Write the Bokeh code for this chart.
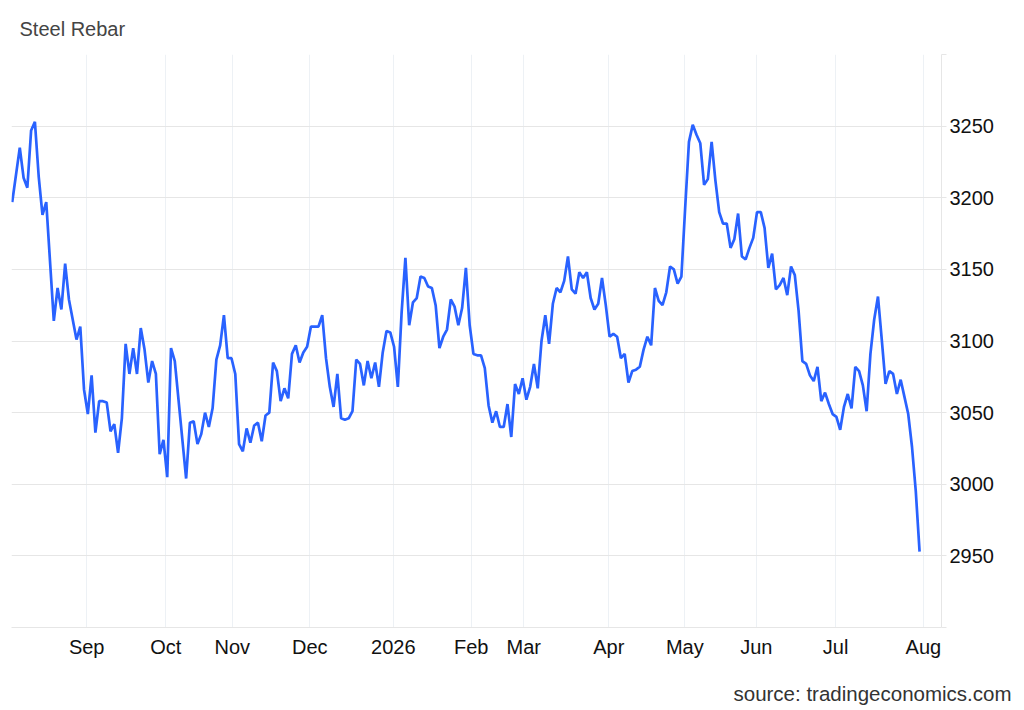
from bokeh.plotting import figure
from bokeh.models import FixedTicker, Range1d, Title
from bokeh.embed import file_html
from bokeh.resources import INLINE

# trading-day index of each observation and the rebar price (CNY/t)
day = [0, 2, 3, 4, 5, 6, 7, 8, 9, 11, 12, 13, 14, 15, 16, 17, 18, 19, 20, 21,
       22, 23, 24, 25, 26, 27, 28, 29, 30, 31, 32, 33, 34, 35, 36, 37, 38, 39, 40, 41,
       42, 43, 46, 47, 48, 49, 50, 51, 52, 53, 54, 55, 56, 57, 58, 59, 60, 61, 62, 63,
       64, 65, 66, 67, 68, 69, 70, 71, 72, 73, 74, 75, 76, 77, 78, 79, 80, 81, 82, 83,
       84, 85, 86, 87, 88, 89, 90, 91, 92, 93, 94, 95, 96, 97, 98, 99, 100, 101, 102, 103,
       104, 105, 106, 107, 108, 109, 110, 111, 112, 113, 114, 115, 116, 117, 118, 119, 120, 121, 122, 123,
       124, 125, 126, 127, 128, 129, 130, 131, 132, 133, 134, 135, 136, 137, 138, 139, 140, 141, 142, 143,
       144, 145, 146, 147, 148, 149, 150, 151, 152, 153, 154, 155, 156, 157, 158, 159, 160, 161, 162, 163,
       164, 165, 166, 167, 168, 169, 170, 171, 172, 173, 174, 175, 176, 177, 178, 179, 180, 181, 182, 183,
       184, 185, 186, 187, 188, 189, 190, 191, 192, 193, 194, 195, 196, 197, 198, 199, 200, 201, 202, 203,
       204, 205, 206, 207, 208, 209, 210, 211, 212, 213, 214, 215, 216, 217, 218, 219, 220, 221, 222, 223,
       224, 225, 226, 227, 228, 229, 230, 231, 232, 233, 234, 235, 236, 237, 238, 239, 240]

price = [3197, 3235, 3214, 3207, 3247, 3253, 3215, 3188, 3197, 3114, 3137, 3122, 3154, 3129, 3115, 3101, 3110, 3066, 3049, 3076,
         3036, 3058, 3058, 3057, 3037, 3042, 3022, 3046, 3098, 3077, 3095, 3077, 3109, 3094, 3071, 3086, 3077, 3021, 3031, 3005,
         3095, 3086, 3004, 3043, 3044, 3028, 3035, 3050, 3040, 3053, 3087, 3097, 3118, 3088, 3088, 3077, 3028, 3023, 3039, 3029,
         3041, 3043, 3030, 3048, 3050, 3085, 3079, 3058, 3067, 3060, 3091, 3097, 3085, 3092, 3096, 3110, 3110, 3110, 3118, 3088,
         3068, 3054, 3077, 3046, 3045, 3046, 3051, 3087, 3084, 3069, 3086, 3074, 3085, 3068, 3092, 3107, 3106, 3096, 3068, 3120,
         3158, 3111, 3127, 3130, 3145, 3144, 3138, 3137, 3125, 3095, 3103, 3108, 3129, 3124, 3111, 3123, 3151, 3111, 3091, 3090,
         3090, 3081, 3055, 3043, 3051, 3040, 3040, 3056, 3033, 3070, 3063, 3074, 3059, 3068, 3084, 3067, 3100, 3118, 3098, 3126,
         3137, 3134, 3142, 3159, 3136, 3133, 3148, 3144, 3148, 3130, 3122, 3126, 3144, 3125, 3103, 3105, 3103, 3088, 3091, 3071,
         3079, 3080, 3082, 3094, 3103, 3097, 3137, 3128, 3125, 3134, 3152, 3150, 3140, 3145, 3193, 3239, 3251, 3244, 3238, 3209,
         3213, 3239, 3212, 3190, 3182, 3182, 3165, 3171, 3189, 3159, 3157, 3165, 3172, 3190, 3190, 3179, 3151, 3161, 3136, 3139,
         3144, 3132, 3152, 3146, 3121, 3086, 3084, 3076, 3072, 3082, 3058, 3064, 3056, 3049, 3047, 3038, 3054, 3063, 3053, 3082,
         3079, 3069, 3051, 3091, 3115, 3131, 3101, 3070, 3079, 3077, 3063, 3073, 3061, 3049, 3026, 2995, 2953]

# month starts on the trading-day axis
month_pos = [19.7, 40.6, 58.2, 78.7, 100.8, 121.4, 135.3, 157.8, 177.9, 196.8, 217.8, 241.0]
month_lbl = ["Sep", "Oct", "Nov", "Dec", "2026", "Feb", "Mar", "Apr", "May", "Jun", "Jul", "Aug"]
y_ticks = [2900, 2950, 3000, 3050, 3100, 3150, 3200, 3250, 3300]

FONT = "Liberation Sans"

p = figure(frame_width=930, frame_height=573, output_backend="svg", toolbar_location=None,
           x_range=Range1d(-0.19, 245.8), y_range=Range1d(2900, 3300),
           y_axis_location="right", min_border_left=11, min_border_right=75,
           min_border_top=53, min_border_bottom=2)
p.outline_line_color = None
p.background_fill_color = "white"
p.border_fill_color = "white"

p.title.text = "Steel Rebar"
p.title.text_font = FONT
p.title.text_font_size = "20px"
p.title.text_font_style = "normal"
p.title.text_color = "#444444"
p.title.offset = 8
p.title.standoff = 30

p.add_layout(Title(text="source: tradingeconomics.com", align="right", offset=-70,
                   text_font=FONT, text_font_size="20.5px", text_font_style="normal",
                   text_color="#333333", standoff=39), "below")

p.line(day, price, line_color="#2962ff", line_width=2.7)

p.xaxis.ticker = FixedTicker(ticks=month_pos)
p.xaxis.major_label_overrides = {pos: lbl for pos, lbl in zip(month_pos, month_lbl)}
p.xaxis.axis_line_color = "#e6e6e6"
p.xaxis.major_tick_line_color = None
p.xaxis.minor_tick_line_color = None
p.xaxis.major_label_standoff = 2
p.xaxis.major_label_text_font = FONT
p.xaxis.major_label_text_font_size = "20px"
p.xaxis.major_label_text_color = "#111111"

p.yaxis.ticker = FixedTicker(ticks=y_ticks)
p.yaxis.major_label_overrides = {2900: "", 3300: ""}
p.yaxis.axis_line_color = "#e6e6e6"
p.yaxis.major_tick_line_color = "#e6e6e6"
p.yaxis.major_tick_out = 5
p.yaxis.major_tick_in = 0
p.yaxis.minor_tick_line_color = None
p.yaxis.major_label_standoff = 3
p.yaxis.major_label_text_font = FONT
p.yaxis.major_label_text_font_size = "20px"
p.yaxis.major_label_text_color = "#111111"

p.xgrid.grid_line_color = "#edf1f5"
p.ygrid.grid_line_color = "#e6e6e6"

open("out.html", "w").write(file_html(p, INLINE))
